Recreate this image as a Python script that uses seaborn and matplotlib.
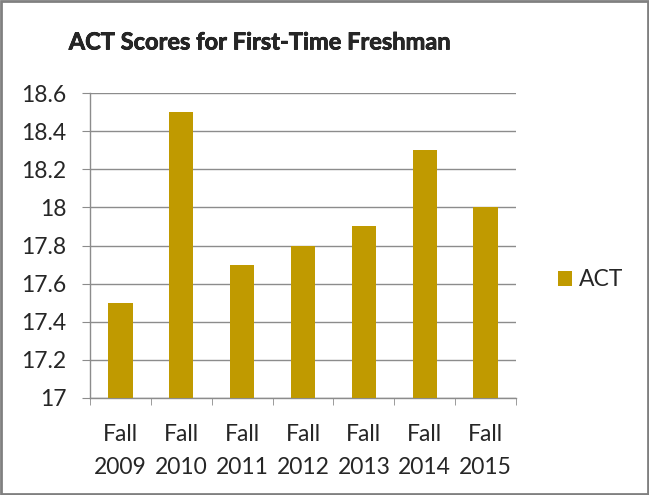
import matplotlib
matplotlib.use("Agg")
import matplotlib.pyplot as plt
import matplotlib.patheffects as pe
import seaborn as sns
import pandas as pd
from matplotlib.patches import Rectangle

categories = ["Fall\n2009", "Fall\n2010", "Fall\n2011", "Fall\n2012", "Fall\n2013", "Fall\n2014", "Fall\n2015"]
act = [17.5, 18.5, 17.7, 17.8, 17.9, 18.3, 18.0]
yticks = [17, 17.2, 17.4, 17.6, 17.8, 18, 18.2, 18.4, 18.6]
ytick_labels = ["17", "17.2", "17.4", "17.6", "17.8", "18", "18.2", "18.4", "18.6"]
series_name = "ACT"
title = "ACT Scores for First-Time Freshman"

sns.set_style("white")
plt.rcParams["font.family"] = ["Lato", "DejaVu Sans"]

df = pd.DataFrame({"cat": categories, "val": act})

fig = plt.figure(figsize=(6.49, 4.95), dpi=100)
ax = fig.add_axes([90/649, 1-398/495, (516-90)/649, (398-93)/495])
color = "#C09A00"
sns.barplot(data=df, x="cat", y="val", color=color, width=0.4, ax=ax,
            saturation=1, edgecolor="none", zorder=3)
ax.set_ylim(17, 18.6)
ax.set_xlim(-0.5, len(categories) - 0.5)
ax.set_yticks(yticks)
ax.set_yticklabels(ytick_labels)
ax.grid(axis="y", color="#8c8c8c", linewidth=1, zorder=0)
ax.set_axisbelow(True)
ax.set_xlabel("")
ax.set_ylabel("")
for s in ["top", "right"]:
    ax.spines[s].set_visible(False)
for s in ["left", "bottom"]:
    ax.spines[s].set_color("#8c8c8c")
    ax.spines[s].set_linewidth(1)
ax.tick_params(axis="y", which="major", direction="out", length=6, color="#8c8c8c",
               labelsize=16.5, pad=11, left=True)
ax.tick_params(axis="x", which="major", length=0, labelsize=16.5, pad=19)
ax.set_xticks([i - 0.5 for i in range(len(categories) + 1)], minor=True)
ax.tick_params(axis="x", which="minor", direction="out", length=5, color="#8c8c8c", bottom=True)
for lab in ax.get_xticklabels():
    lab.set_linespacing(1.7)

fig.text(260/649, 1 - 42/495, title, ha="center", va="center",
         fontsize=17, fontweight="bold",
         path_effects=[pe.withStroke(linewidth=0.5, foreground="black")])

handle = Rectangle((0, 0), 1, 1, facecolor=color, edgecolor="none")
fig.legend([handle], [series_name], loc="center left", bbox_to_anchor=(558/649, 1 - 280/495),
           frameon=False, fontsize=16.5, handlelength=0.6, handleheight=0.6, handletextpad=0.3,
           borderpad=0, borderaxespad=0)

border = Rectangle((0.002, 0.002), 0.996, 0.996, transform=fig.transFigure, fill=False,
                   edgecolor="#808080", linewidth=2)
fig.patches.append(border)

fig.savefig("out.png", dpi=100)
